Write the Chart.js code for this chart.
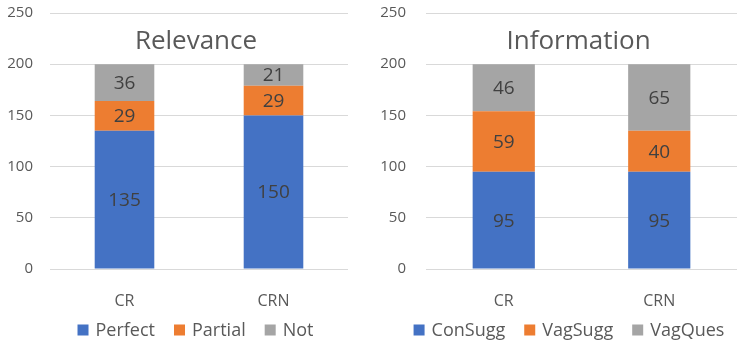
<!DOCTYPE html>
<html>
<head>
<meta charset="utf-8">
<script src="https://cdn.jsdelivr.net/npm/chart.js@4"></script>
<style>
  body { margin: 0; background: #fff; }
  .box { position: absolute; top: 0; height: 346px; }
</style>
</head>
<body>
<div class="box" style="left:0;width:373px"><canvas id="relChart" width="373" height="346"></canvas></div>
<div class="box" style="left:373px;width:374px"><canvas id="infoChart" width="374" height="346"></canvas></div>
<script>
// data
const categories = ["CR", "CRN"];

const relTitle = "Relevance";
const relLabels = ["Perfect", "Partial", "Not"];
const relPerfect = [135, 150];
const relPartial = [29, 29];
const relNot = [36, 21];

const infoTitle = "Information";
const infoLabels = ["ConSugg", "VagSugg", "VagQues"];
const infoConSugg = [95, 95];
const infoVagSugg = [59, 40];
const infoVagQues = [46, 65];

const yTicks = [0, 50, 100, 150, 200, 250];

const colors = ["#4472C4", "#ED7D31", "#A5A5A5"];
const fontName = "'Open Sans', sans-serif";

// draws the numbers in the middle of each bar piece
const barValues = {
  id: 'barValues',
  afterDatasetsDraw(chart) {
    const ctx = chart.ctx;
    ctx.save();
    ctx.font = "19px " + fontName;
    ctx.fillStyle = "#404040";
    ctx.textAlign = "center";
    ctx.textBaseline = "middle";
    chart.data.datasets.forEach((ds, i) => {
      chart.getDatasetMeta(i).data.forEach((bar, j) => {
        ctx.fillText(ds.data[j], bar.x, (bar.y + bar.base) / 2 + 1);
      });
    });
    ctx.restore();
  }
};

// title sits inside the plot, between 200 and 250
const innerTitle = {
  id: 'innerTitle',
  afterDraw(chart, args, opts) {
    const ctx = chart.ctx;
    const area = chart.chartArea;
    const y = chart.scales.y.getPixelForValue(222);
    ctx.save();
    ctx.font = "26px " + fontName;
    ctx.fillStyle = "#595959";
    ctx.textAlign = "center";
    ctx.textBaseline = "middle";
    ctx.fillText(opts.text, (area.left + area.right) / 2 - 3, y);
    ctx.restore();
  }
};

// simple legend row at the bottom, Excel style spacing
const bottomLegend = {
  id: 'bottomLegend',
  afterDraw(chart, args, opts) {
    const ctx = chart.ctx;
    const box = 11, gap = 7, space = 19;
    ctx.save();
    ctx.font = "18px " + fontName;
    const items = chart.data.datasets.map(ds => ({ text: ds.label, color: ds.backgroundColor, w: ctx.measureText(ds.label).width }));
    let total = 0;
    items.forEach((it, i) => { total += box + gap + it.w + (i > 0 ? space : 0); });
    let x = chart.width / 2 + 9 - total / 2;
    const y = opts.y;
    ctx.textBaseline = "middle";
    ctx.textAlign = "left";
    items.forEach(it => {
      ctx.fillStyle = it.color;
      ctx.fillRect(x, y - box / 2, box, box);
      ctx.fillStyle = "#595959";
      ctx.fillText(it.text, x + box + gap, y + 1);
      x += box + gap + it.w + space;
    });
    ctx.restore();
  }
};

function makeChart(id, title, labels, series, yWidth, padRight) {
  new Chart(document.getElementById(id), {
    type: 'bar',
    data: {
      labels: categories,
      datasets: series.map((s, i) => ({
        label: labels[i],
        data: s,
        backgroundColor: colors[i],
        barPercentage: 0.8,
        categoryPercentage: 0.5
      }))
    },
    options: {
      responsive: false,
      animation: false,
      layout: { padding: { top: 13, right: padRight, left: 0, bottom: 31 } },
      scales: {
        x: {
          stacked: true,
          grid: { display: false },
          border: { display: false },
          ticks: { color: "#595959", font: { family: fontName, size: 16 }, padding: 15 },
          afterFit(scale) { scale.height = 46; }
        },
        y: {
          stacked: true,
          min: 0,
          max: 250,
          afterBuildTicks(scale) { scale.ticks = yTicks.map(v => ({ value: v })); },
          // tick marks are invisible, their length just pushes the labels left
          grid: { color: "#D9D9D9", drawTicks: true, tickLength: yWidth - 33, tickColor: "rgba(0,0,0,0)" },
          border: { display: false },
          ticks: { color: "#595959", font: { family: fontName, size: 15 }, padding: 0 },
          afterFit(scale) { scale.width = yWidth; }
        }
      },
      plugins: {
        legend: { display: false },
        tooltip: { enabled: false },
        innerTitle: { text: title },
        bottomLegend: { y: 330 }
      }
    },
    plugins: [barValues, innerTitle, bottomLegend]
  });
}

makeChart('relChart', relTitle, relLabels, [relPerfect, relPartial, relNot], 50, 25);
makeChart('infoChart', infoTitle, infoLabels, [infoConSugg, infoVagSugg, infoVagQues], 53, 10);
</script>
</body>
</html>
